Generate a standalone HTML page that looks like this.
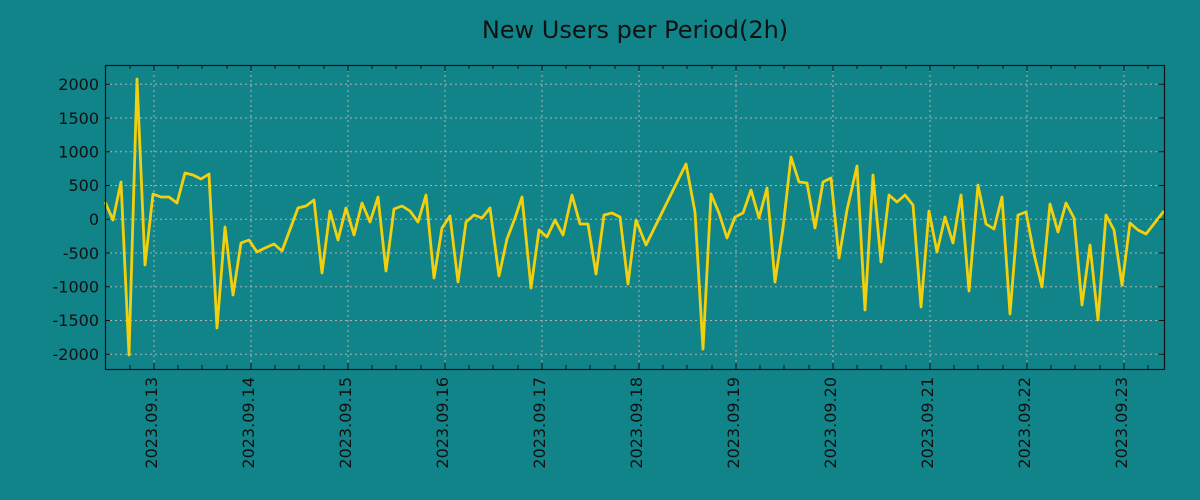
<!DOCTYPE html>
<html><head><meta charset="utf-8"><style>
html,body{margin:0;padding:0;background:#11848a;}
svg{display:block;font-family:"DejaVu Sans","Liberation Sans",sans-serif;}
</style></head><body>
<svg width="1200" height="500" viewBox="0 0 1200 500" xmlns="http://www.w3.org/2000/svg">
<rect width="1200" height="500" fill="#11848a"/>
<text x="635" y="38" font-size="24" text-anchor="middle" fill="#111">New Users per Period(2h)</text>
<g stroke="#b0b0b0" stroke-width="1" stroke-dasharray="2,3">
<line x1="105" x2="1164" y1="84.3" y2="84.3"/><line x1="105" x2="1164" y1="118" y2="118"/>
<line x1="105" x2="1164" y1="151.8" y2="151.8"/><line x1="105" x2="1164" y1="185.5" y2="185.5"/>
<line x1="105" x2="1164" y1="219.3" y2="219.3"/><line x1="105" x2="1164" y1="253" y2="253"/>
<line x1="105" x2="1164" y1="286.8" y2="286.8"/><line x1="105" x2="1164" y1="320.5" y2="320.5"/>
<line x1="105" x2="1164" y1="354.3" y2="354.3"/>
<line x1="154" x2="154" y1="65" y2="369"/><line x1="251" x2="251" y1="65" y2="369"/>
<line x1="348" x2="348" y1="65" y2="369"/><line x1="445" x2="445" y1="65" y2="369"/>
<line x1="542" x2="542" y1="65" y2="369"/><line x1="639" x2="639" y1="65" y2="369"/>
<line x1="736" x2="736" y1="65" y2="369"/><line x1="833" x2="833" y1="65" y2="369"/>
<line x1="930" x2="930" y1="65" y2="369"/><line x1="1027" x2="1027" y1="65" y2="369"/>
<line x1="1124" x2="1124" y1="65" y2="369"/>
</g>
<polyline fill="none" stroke="#f2d00d" stroke-width="2.8" stroke-linejoin="round" points="105,202 113,220 121,182 129,355 137,79 145,265 153,194 161,197 169,197 177,203 185,173 193,175 201,179 209,174 217,328 225,227 233,295 241,243 249,240 257,252 265,248 274,244 282,251 298,208 306,206 314,200 322,273 330,211 338,240 346,208 354,235 362,203 370,222 378,197 386,271 394,209 402,206 410,211 418,222 426,195 434,278 442,228 450,216 458,282 466,222 474,215 482,218 490,208 499,276 507,239 515,218 522,197 531,288 539,230 547,237 555,220 563,235 572,195 580,224 588,224 596,274 604,215 612,213 620,217 628,284 636,220 646,245 686,164 695,212 703,349 711,194 719,213 727,238 735,217 743,213 751,190 759,218 767,188 775,282 783,228 791,157 799,182 807,183 815,228 823,182 831,178 839,258 847,210 857,166 865,310 873,175 881,262 889,195 897,202 905,195 913,205 921,307 929,211 937,252 945,217 953,243 961,195 969,291 978,185 986,224 994,229 1002,197 1010,314 1018,215 1026,212 1034,254 1042,287 1050,204 1058,232 1066,203 1074,218 1082,305 1090,245 1098,320 1106,215 1114,230 1122,285 1130,223 1138,230 1146,234 1164,211"/>
<rect x="105.5" y="65.5" width="1059" height="304" fill="none" stroke="#111" stroke-width="1.2"/>
<g stroke="#111" stroke-width="1">
<path d="M105,84.3h5M105,118h5M105,151.8h5M105,185.5h5M105,219.3h5M105,253h5M105,286.8h5M105,320.5h5M105,354.3h5"/>
<path d="M1164,84.3h-5M1164,118h-5M1164,151.8h-5M1164,185.5h-5M1164,219.3h-5M1164,253h-5M1164,286.8h-5M1164,320.5h-5M1164,354.3h-5"/>
<path d="M130,369v-4M154,369v-6M178,369v-4M202,369v-4M227,369v-4M251,369v-6M275,369v-4M299,369v-4M324,369v-4M348,369v-6M372,369v-4M396,369v-4M421,369v-4M445,369v-6M469,369v-4M493,369v-4M518,369v-4M542,369v-6M566,369v-4M590,369v-4M615,369v-4M639,369v-6M663,369v-4M687,369v-4M712,369v-4M736,369v-6M760,369v-4M784,369v-4M809,369v-4M833,369v-6M857,369v-4M881,369v-4M906,369v-4M930,369v-6M954,369v-4M978,369v-4M1003,369v-4M1027,369v-6M1051,369v-4M1075,369v-4M1100,369v-4M1124,369v-6M1148,369v-4"/>
<path d="M130,65v4M154,65v6M178,65v4M202,65v4M227,65v4M251,65v6M275,65v4M299,65v4M324,65v4M348,65v6M372,65v4M396,65v4M421,65v4M445,65v6M469,65v4M493,65v4M518,65v4M542,65v6M566,65v4M590,65v4M615,65v4M639,65v6M663,65v4M687,65v4M712,65v4M736,65v6M760,65v4M784,65v4M809,65v4M833,65v6M857,65v4M881,65v4M906,65v4M930,65v6M954,65v4M978,65v4M1003,65v4M1027,65v6M1051,65v4M1075,65v4M1100,65v4M1124,65v6M1148,65v4"/>
</g>
<g font-size="16" fill="#111" text-anchor="end">
<text x="99" y="90">2000</text><text x="99" y="124">1500</text><text x="99" y="157.5">1000</text>
<text x="99" y="191">500</text><text x="99" y="225">0</text><text x="99" y="259">-500</text>
<text x="99" y="292.5">-1000</text><text x="99" y="326">-1500</text><text x="99" y="360">-2000</text>
</g>
<g font-size="16" fill="#111" text-anchor="end">
<text transform="translate(157,377) rotate(-90)">2023.09.13</text>
<text transform="translate(254,377) rotate(-90)">2023.09.14</text>
<text transform="translate(351,377) rotate(-90)">2023.09.15</text>
<text transform="translate(448,377) rotate(-90)">2023.09.16</text>
<text transform="translate(545,377) rotate(-90)">2023.09.17</text>
<text transform="translate(642,377) rotate(-90)">2023.09.18</text>
<text transform="translate(739,377) rotate(-90)">2023.09.19</text>
<text transform="translate(836,377) rotate(-90)">2023.09.20</text>
<text transform="translate(933,377) rotate(-90)">2023.09.21</text>
<text transform="translate(1030,377) rotate(-90)">2023.09.22</text>
<text transform="translate(1127,377) rotate(-90)">2023.09.23</text>
</g>
</svg>
</body></html>
